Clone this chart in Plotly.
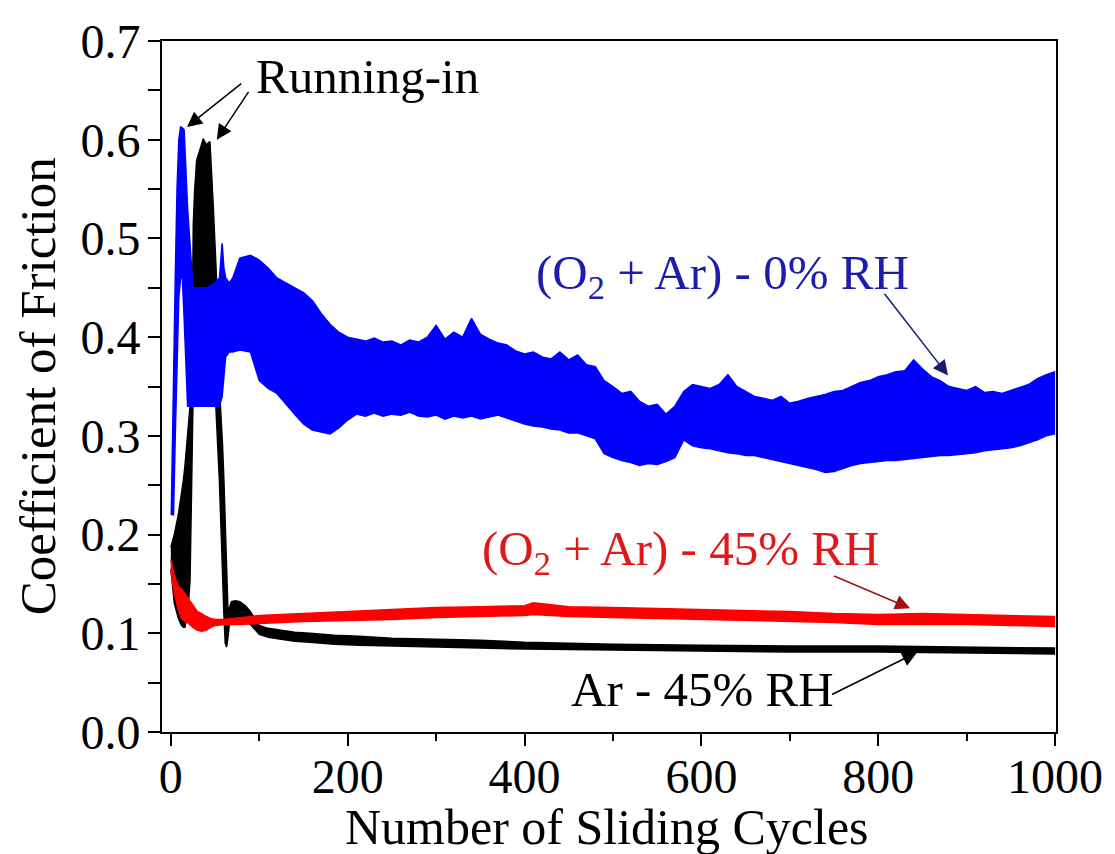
import plotly.graph_objects as go

# ---------------- data ----------------
# Ar - 45% RH (black): band envelopes
ar45_x = [0, 4, 8.6, 12, 14.2, 16, 19.8, 21.7, 23.6, 25.4, 27, 29.2, 33, 36.7, 40, 44.2, 48, 49.5, 51.7,
          54.5, 54.9, 57, 58.5, 60, 61.5, 63, 64.5, 66, 68.6, 73, 78, 84, 89, 95, 100, 110, 123, 140, 157,
          185, 213, 250, 300, 350, 400, 500, 600, 700, 800, 900, 1000]
ar45_hi = [0.187, 0.20, 0.221, 0.24, 0.255, 0.27, 0.305, 0.33, 0.356, 0.515, 0.55, 0.579, 0.59, 0.601, 0.595,
           0.598, 0.532, 0.50, 0.458, 0.356, 0.35, 0.31, 0.29, 0.255, 0.21, 0.16, 0.125, 0.125, 0.132, 0.133,
           0.132, 0.128, 0.123, 0.115, 0.108, 0.105, 0.103, 0.101, 0.100, 0.098, 0.097, 0.095, 0.094, 0.093,
           0.091, 0.089, 0.088, 0.087, 0.087, 0.086, 0.085]
ar45_lo = [0.165, 0.13, 0.115, 0.108, 0.106, 0.106, 0.13, 0.154, 0.255, 0.356, 0.36, 0.36, 0.36, 0.36, 0.36,
           0.36, 0.36, 0.356, 0.315, 0.262, 0.255, 0.20, 0.154, 0.12, 0.09, 0.086, 0.095, 0.108, 0.113, 0.115,
           0.115, 0.113, 0.110, 0.104, 0.099, 0.096, 0.094, 0.092, 0.091, 0.089, 0.088, 0.087, 0.086, 0.085,
           0.084, 0.083, 0.082, 0.081, 0.081, 0.080, 0.079]

# (O2 + Ar) - 0% RH (blue): band envelopes
o2_0_x = [0.5, 3, 5, 7, 9, 11, 13, 15, 17, 19, 22, 25, 30, 40, 50, 55, 58, 60, 62, 66, 70, 78, 90,
          100, 110, 120, 130, 140, 150, 160, 170, 180, 190, 200, 210, 220, 230, 240, 250, 260, 270, 280, 290,
          300, 310, 320, 330, 340, 350, 360, 370, 380, 390, 400, 410, 420, 430, 440, 450, 460, 470, 480, 490,
          500, 510, 520, 530, 540, 550, 560, 570, 580, 590, 600, 610, 620, 630, 640, 650, 660, 670, 680, 690,
          700, 710, 720, 730, 740, 750, 760, 770, 780, 790, 800, 810, 820, 830, 840, 850, 860, 870, 880, 890,
          900, 910, 920, 930, 940, 950, 960, 970, 980, 990, 1000]
o2_0_hi = [0.22, 0.37, 0.46, 0.55, 0.60, 0.613, 0.612, 0.61, 0.57, 0.53, 0.49, 0.45, 0.45, 0.45, 0.455, 0.46,
           0.495, 0.47, 0.46, 0.455, 0.46, 0.48, 0.483,
           0.478, 0.47, 0.46, 0.455, 0.45, 0.445, 0.437, 0.424, 0.413, 0.405, 0.40, 0.398, 0.396, 0.399,
           0.395, 0.396, 0.392, 0.397, 0.395, 0.40, 0.412, 0.398, 0.405, 0.40, 0.419, 0.403, 0.398, 0.394,
           0.392, 0.386, 0.383, 0.385, 0.38, 0.378, 0.385, 0.377, 0.382, 0.372, 0.37, 0.356, 0.35, 0.343,
           0.345, 0.335, 0.33, 0.332, 0.322, 0.33, 0.345, 0.352, 0.35, 0.348, 0.352, 0.362, 0.35, 0.345,
           0.34, 0.338, 0.336, 0.34, 0.333, 0.335, 0.338, 0.34, 0.342, 0.345, 0.346, 0.35, 0.354, 0.356,
           0.36, 0.362, 0.365, 0.366, 0.377, 0.368, 0.36, 0.356, 0.35, 0.348, 0.346, 0.35, 0.344, 0.345,
           0.343, 0.346, 0.349, 0.352, 0.358, 0.362, 0.365]
o2_0_lo = [0.22, 0.22, 0.30, 0.38, 0.44, 0.46, 0.46, 0.42, 0.37, 0.33, 0.33, 0.33, 0.33, 0.33, 0.33, 0.33,
           0.34, 0.36, 0.38, 0.385, 0.385, 0.387, 0.385,
           0.356, 0.348, 0.343, 0.332, 0.322, 0.312, 0.306, 0.304, 0.302, 0.308, 0.316, 0.322, 0.32, 0.323,
           0.32, 0.322, 0.321, 0.324, 0.32, 0.319, 0.321, 0.317, 0.32, 0.318, 0.32, 0.317, 0.319, 0.321,
           0.318, 0.315, 0.312, 0.31, 0.309, 0.307, 0.306, 0.303, 0.303, 0.30, 0.297, 0.282, 0.278, 0.275,
           0.273, 0.27, 0.272, 0.271, 0.274, 0.278, 0.296, 0.29, 0.288, 0.287, 0.285, 0.283, 0.282, 0.28,
           0.28, 0.278, 0.276, 0.274, 0.272, 0.27, 0.268, 0.266, 0.263, 0.264, 0.267, 0.27, 0.272, 0.273,
           0.274, 0.275, 0.275, 0.276, 0.277, 0.278, 0.279, 0.28, 0.28, 0.281, 0.282, 0.283, 0.285, 0.286,
           0.287, 0.288, 0.29, 0.293, 0.296, 0.30, 0.302]

# (O2 + Ar) - 45% RH (red): band envelopes
o2_45_x = [0, 3, 8, 12, 16, 20, 25, 30, 35, 40, 45, 50, 60, 80, 100, 150, 200, 250, 300, 350, 400, 410, 450,
           500, 550, 600, 650, 700, 750, 800, 850, 900, 950, 1000]
o2_45_hi = [0.175, 0.162, 0.148, 0.145, 0.14, 0.135, 0.128, 0.122, 0.12, 0.117, 0.115, 0.114, 0.114, 0.116,
            0.118, 0.12, 0.122, 0.124, 0.126, 0.127, 0.128, 0.131, 0.127, 0.126, 0.125, 0.124, 0.123, 0.122,
            0.12, 0.119, 0.12, 0.119, 0.118, 0.117]
o2_45_lo = [0.165, 0.145, 0.125, 0.115, 0.112, 0.11, 0.106, 0.103, 0.102, 0.103, 0.106, 0.108, 0.109, 0.109,
            0.110, 0.112, 0.113, 0.114, 0.116, 0.117, 0.118, 0.119, 0.117, 0.116, 0.115, 0.114, 0.113, 0.112,
            0.111, 0.109, 0.109, 0.109, 0.108, 0.107]

x_ticks = [0, 200, 400, 600, 800, 1000]
y_ticks = [0.0, 0.1, 0.2, 0.3, 0.4, 0.5, 0.6, 0.7]

FONT = "Liberation Serif"

fig = go.Figure()


def band(x, lo, hi, color, name):
    fig.add_trace(go.Scatter(x=x, y=lo, mode="lines", line=dict(color=color, width=1.5),
                             showlegend=False, name=name, hoverinfo="skip"))
    fig.add_trace(go.Scatter(x=x, y=hi, mode="lines", line=dict(color=color, width=1.5),
                             fill="tonexty", fillcolor=color, showlegend=False, name=name,
                             hoverinfo="skip"))


band(ar45_x, ar45_lo, ar45_hi, "#000000", "Ar - 45% RH")
band(o2_0_x, o2_0_lo, o2_0_hi, "#0000ff", "(O2 + Ar) - 0% RH")
band(o2_45_x, o2_45_lo, o2_45_hi, "#ff0000", "(O2 + Ar) - 45% RH")

annotations = [
    dict(text="Running-in", x=222, y=0.664, font=dict(size=49, color="#000000")),
    dict(text="(O<sub>2</sub> + Ar) - 0% RH", x=624, y=0.462, font=dict(size=49, color="#1c1cb0")),
    dict(text="(O<sub>2</sub> + Ar) - 45% RH", x=576, y=0.183, font=dict(size=49, color="#e01818")),
    dict(text="Ar - 45% RH", x=601, y=0.043, font=dict(size=49, color="#000000")),
]
for a in annotations:
    a.update(xref="x", yref="y", showarrow=False, xanchor="center", yanchor="middle")
    a["font"]["family"] = FONT

arrows = [
    # (tip x, tip y, tail x, tail y, color)
    (18.3, 0.613, 81.3, 0.658, "#000000"),
    (52.0, 0.600, 89.0, 0.650, "#000000"),
    (878.9, 0.3612, 805.7, 0.4455, "#1a1a70"),
    (836.0, 0.1253, 748.3, 0.1587, "#a01010"),
    (844.0, 0.0808, 746.0, 0.0372, "#000000"),
]
for tx, ty, sx, sy, c in arrows:
    annotations.append(dict(x=tx, y=ty, ax=sx, ay=sy, xref="x", yref="y", axref="x", ayref="y",
                            text="", showarrow=True, arrowhead=2, arrowsize=2.0, arrowwidth=1.5,
                            arrowcolor=c, standoff=0, startstandoff=0))

# axis titles
annotations.append(dict(text="Number of Sliding Cycles", xref="paper", yref="paper", x=0.498, y=-0.137,
                        xanchor="center", yanchor="middle", showarrow=False,
                        font=dict(family=FONT, size=50, color="#000000")))
annotations.append(dict(text="Coefficient of Friction", xref="paper", yref="paper", x=-0.139, y=0.5,
                        xanchor="center", yanchor="middle", showarrow=False, textangle=-90,
                        font=dict(family=FONT, size=51, color="#000000")))

axis_common = dict(showline=True, linecolor="#000000", linewidth=2, mirror=True, ticks="outside",
                   tickcolor="#000000", tickwidth=2, ticklen=12, showgrid=False, zeroline=False,
                   tickfont=dict(family=FONT, size=48, color="#000000"))

fig.update_layout(
    width=1115, height=854,
    margin=dict(l=162, r=53, t=41, b=122),
    paper_bgcolor="#ffffff", plot_bgcolor="#ffffff",
    annotations=annotations,
    xaxis=dict(range=[-10, 1001], tickvals=x_ticks, ticktext=[str(v) for v in x_ticks],
               minor=dict(ticks="outside", ticklen=7, tickwidth=2, tickcolor="#000000", dtick=100,
                          tick0=0, showgrid=False),
               ticklabelstandoff=-11, **axis_common),
    yaxis=dict(range=[0, 0.7], tickvals=y_ticks, ticktext=[f"{v:.1f}" for v in y_ticks],
               minor=dict(ticks="outside", ticklen=12, tickwidth=2, tickcolor="#000000", dtick=0.05,
                          tick0=0, showgrid=False),
               ticklabelstandoff=-2, **axis_common),
)

fig.write_html("out.html")
